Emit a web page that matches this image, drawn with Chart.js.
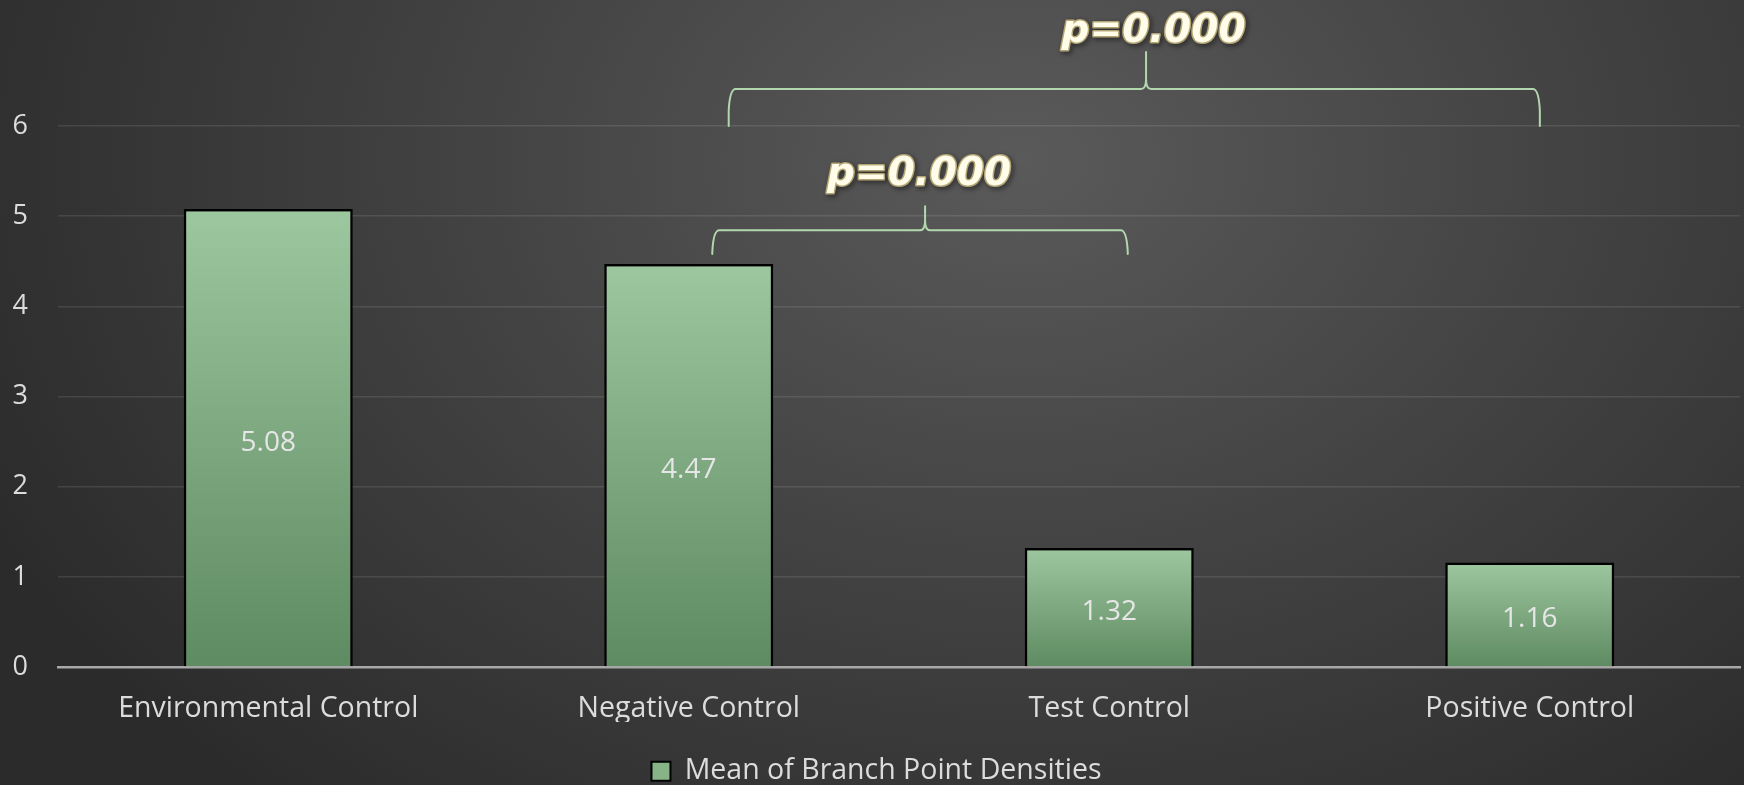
<!DOCTYPE html>
<html>
<head>
<meta charset="utf-8">
<script src="https://cdn.jsdelivr.net/npm/chart.js@4.4.1/dist/chart.umd.min.js"></script>
<style>
  html, body { margin: 0; padding: 0; }
  body {
    width: 1744px; height: 785px; overflow: hidden;
    background: radial-gradient(ellipse 1150px 850px at 1020px 160px, #5a5a5a 0%, #444 45%, #2b2b2b 100%);
  }
  #wrap { position: absolute; left: 0; top: 0; width: 1744px; height: 785px; }
</style>
</head>
<body>
<div id="wrap"><canvas id="chart"></canvas></div>
<script>
// Categories and mean values
const categories = ['Environmental Control', 'Negative Control', 'Test Control', 'Positive Control'];
const meanDensities = [5.08, 4.47, 1.32, 1.16];
const seriesName = 'Mean of Branch Point Densities';
const yTicks = [0, 1, 2, 3, 4, 5, 6];

// Significance comparisons: category index pairs and their p-value labels
const comparePairs = [[1, 3], [1, 2]];
const compareLabels = ['p=0.000', 'p=0.000'];

// Bracket geometry: end offsets / tip shift in category units, heights in axis units, text shift in px
const bracketLayout = [
  { dxL: 0.095, dxR: 0.024, dTip: 0.028, yEnd: 6.0, yBar: 6.41, yTip: 6.82, yBase: 6.93, tx: 7.5 },
  { dxL: 0.056, dxR: 0.044, dTip: 0.012, yEnd: 4.58, yBar: 4.845, yTip: 5.11, yBase: 5.345, tx: -6 }
];

const FONT = "'Open Sans', 'DejaVu Sans', sans-serif";
const TEXT = '#dcdcdc';

function barGradient(context) {
  const chart = context.chart;
  const { chartArea, scales } = chart;
  if (!chartArea || context.dataIndex === undefined) return '#7fae80';
  const v = context.raw;
  const top = scales.y.getPixelForValue(v);
  const bottom = scales.y.getPixelForValue(0);
  const g = chart.ctx.createLinearGradient(0, top, 0, bottom);
  g.addColorStop(0, '#9dc89f');
  g.addColorStop(0.5, '#7ea880');
  g.addColorStop(1, '#5e8b61');
  return g;
}

// Value labels centred inside each bar
const valueLabels = {
  id: 'valueLabels',
  afterDatasetsDraw(chart) {
    const ctx = chart.ctx;
    const meta = chart.getDatasetMeta(0);
    ctx.save();
    ctx.font = `28px ${FONT}`;
    ctx.fillStyle = '#e6e6e6';
    ctx.textAlign = 'center';
    ctx.textBaseline = 'middle';
    meta.data.forEach((bar, i) => {
      const p = bar.getProps(['x', 'y', 'base'], true);
      ctx.fillText(meanDensities[i].toFixed(2), p.x, (p.y + p.base) / 2 + 5);
    });
    ctx.restore();
  }
};

// Curly brackets with p-value text above the bars
const brackets = {
  id: 'brackets',
  afterDraw(chart) {
    const { ctx, scales: { x, y } } = chart;
    ctx.save();
    comparePairs.forEach((pair, k) => {
      const L = bracketLayout[k];
      const iL = pair[0] + L.dxL;
      const iR = pair[1] + L.dxR;
      const xL = x.getPixelForValue(iL);
      const xR = x.getPixelForValue(iR);
      const xM = x.getPixelForValue((iL + iR) / 2 + L.dTip);
      const yE = y.getPixelForValue(L.yEnd);
      const yB = y.getPixelForValue(L.yBar);
      const yT = y.getPixelForValue(L.yTip);
      const rx = 7, ry = 22, cx = 5, cy = 10;
      ctx.strokeStyle = '#b2d7ae';
      ctx.lineWidth = 2;
      ctx.lineJoin = 'round';
      ctx.lineCap = 'round';
      ctx.beginPath();
      ctx.moveTo(xL, yE);
      ctx.lineTo(xL, yB + ry);
      ctx.quadraticCurveTo(xL + 1, yB, xL + rx, yB);
      ctx.lineTo(xM - cx, yB);
      ctx.quadraticCurveTo(xM, yB, xM, yB - cy);
      ctx.lineTo(xM, yT);
      ctx.moveTo(xM, yB - cy);
      ctx.quadraticCurveTo(xM, yB, xM + cx, yB);
      ctx.lineTo(xR - rx, yB);
      ctx.quadraticCurveTo(xR - 1, yB, xR, yB + ry);
      ctx.lineTo(xR, yE);
      ctx.stroke();

      const ty = y.getPixelForValue(L.yBase);
      const tx = xM + L.tx;
      ctx.font = "italic bold 39px 'DejaVu Sans', sans-serif";
      ctx.textAlign = 'center';
      ctx.textBaseline = 'alphabetic';
      ctx.shadowColor = 'rgba(0,0,0,0.6)';
      ctx.shadowBlur = 5;
      ctx.shadowOffsetX = 2;
      ctx.shadowOffsetY = 2;
      ctx.lineWidth = 3;
      ctx.lineJoin = 'round';
      ctx.strokeStyle = '#b3a574';
      ctx.strokeText(compareLabels[k], tx, ty);
      ctx.shadowColor = 'transparent';
      ctx.fillStyle = '#fffce9';
      ctx.fillText(compareLabels[k], tx, ty);
    });
    ctx.restore();
  }
};

new Chart(document.getElementById('chart'), {
  type: 'bar',
  data: {
    labels: categories,
    datasets: [{
      label: seriesName,
      data: meanDensities,
      backgroundColor: barGradient,
      borderColor: '#000',
      borderWidth: 2.5,
      categoryPercentage: 1,
      barPercentage: 0.402
    }]
  },
  options: {
    responsive: true,
    maintainAspectRatio: false,
    animation: false,
    layout: { padding: { top: 126, left: 13, right: 4, bottom: 0 } },
    scales: {
      x: {
        z: 1,
        afterFit(scale) { scale.height = 55; },
        grid: { display: false, drawTicks: false },
        border: { display: true, color: '#a8a8a8', width: 2.5 },
        ticks: { color: TEXT, font: { family: FONT, size: 28.5 }, padding: 25, maxRotation: 0 }
      },
      y: {
        min: 0, max: 6,
        afterFit(scale) { scale.width = 45; },
        afterBuildTicks(scale) { scale.ticks = yTicks.map(v => ({ value: v })); },
        grid: { color: 'rgba(255,255,255,0.1)', lineWidth: 1.5, drawTicks: false },
        border: { display: false },
        ticks: { color: TEXT, font: { family: FONT, size: 27 }, padding: 30 }
      }
    },
    plugins: {
      tooltip: { enabled: false },
      legend: {
        position: 'bottom',
        maxHeight: 63,
        labels: {
          color: TEXT,
          font: { family: FONT, size: 28.5 },
          boxWidth: 19,
          boxHeight: 19,
          padding: 35,
          generateLabels(chart) {
            return [{
              text: seriesName,
              fillStyle: '#86b487',
              strokeStyle: '#000',
              lineWidth: 2,
              fontColor: TEXT,
              datasetIndex: 0
            }];
          }
        }
      }
    }
  },
  plugins: [valueLabels, brackets]
});
</script>
</body>
</html>
